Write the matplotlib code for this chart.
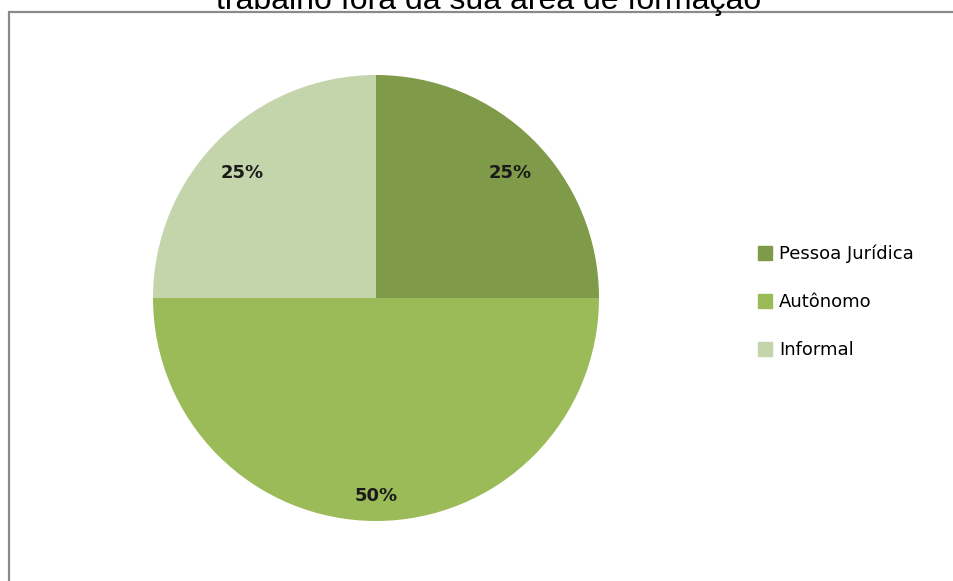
import numpy as np
import matplotlib
matplotlib.use("Agg")
import matplotlib.pyplot as plt
from matplotlib.lines import Line2D
from matplotlib.patches import Rectangle

# Data
categories = ["Pessoa Jurídica", "Autônomo", "Informal"]
shares = [25, 50, 25]
colors = ["#7f9a48", "#9bbb59", "#c4d5ac"]
title_line = "trabalho fora da sua área de formação"

W, H = 954, 581
fig = plt.figure(figsize=(W / 100, H / 100), dpi=100)
fig.patch.set_facecolor("white")

# Chart-area frame (only top and left edges fall inside the canvas)
frame = Rectangle((9 / W, -0.05), 1.2, 1 - 12 / H + 0.05, transform=fig.transFigure,
                  fill=False, edgecolor="#8a8a8a", linewidth=1.6, zorder=0)
fig.add_artist(frame)

# Title (second line of a wrapped title)
fig.text(489 / W, 1 - 9 / H, title_line, ha="center", va="baseline",
         fontsize=23, family="Liberation Sans", color="black")

# Pie axes placed so the circle is centered at (376, 298) px with radius 223 px
cx, cy, r = 376, 298, 223
ax = fig.add_axes([(cx - r) / W, (H - cy - r) / H, 2 * r / W, 2 * r / H])
wedges, _ = ax.pie(shares, colors=colors, startangle=90, counterclock=False,
                   wedgeprops=dict(linewidth=0))
ax.set_xlim(-1, 1)
ax.set_ylim(-1, 1)
ax.set_aspect("auto")
ax.axis("off")

# Percentage labels inside each wedge
total = sum(shares)
for w, v in zip(wedges, shares):
    mid = np.deg2rad((w.theta1 + w.theta2) / 2)
    x, y = 0.85 * np.cos(mid), 0.85 * np.sin(mid) - 0.04
    ax.text(x, y, f"{100 * v / total:.0f}%", ha="center", va="center",
            fontsize=13, fontweight="bold", family="DejaVu Sans", color="#1a1a1a")

# Legend
handles = [Line2D([0], [0], marker="s", linestyle="", markersize=9.5,
                  markerfacecolor=c, markeredgecolor=c) for c in colors]
fig.legend(handles, categories, loc="center left",
           bbox_to_anchor=(741 / W, 1 - 302 / H), frameon=False,
           labelspacing=1.66, handlelength=0.9, handletextpad=0.3,
           prop=dict(family="DejaVu Sans", size=13))

fig.savefig("out.png", dpi=100, facecolor="white")
